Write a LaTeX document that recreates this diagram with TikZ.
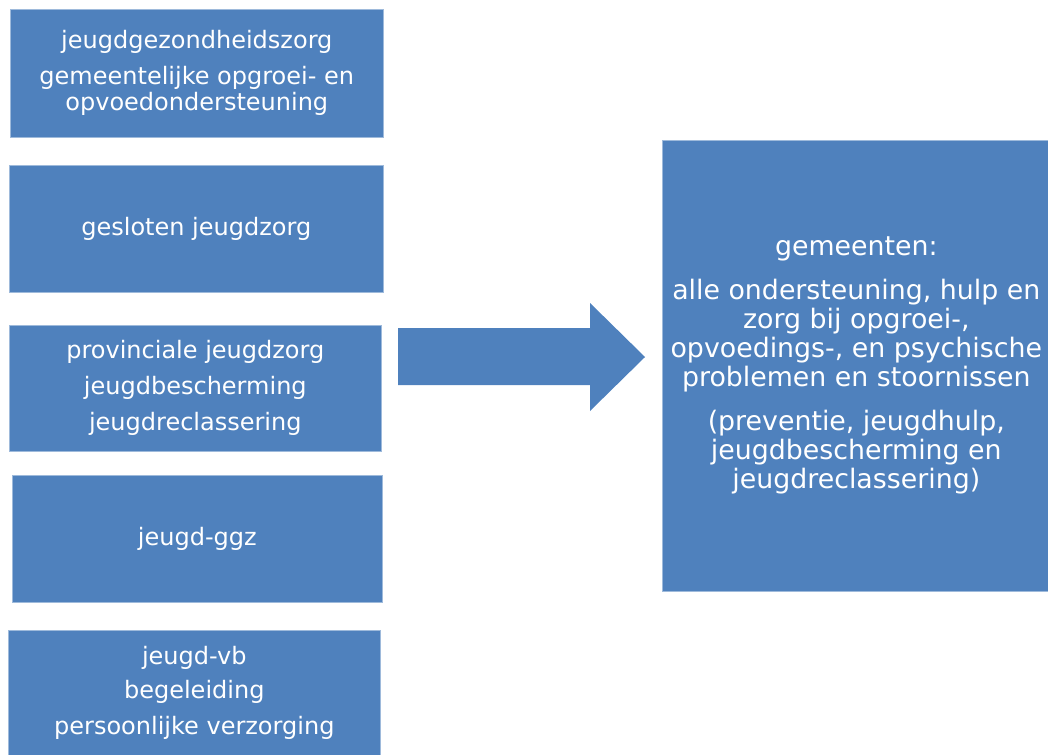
\documentclass[tikz,border=0pt]{standalone}
\usepackage{fontspec}
\setmainfont{DejaVu Sans}
\usetikzlibrary{positioning}
\definecolor{boxblue}{RGB}{79,129,189}

\begin{document}
\begin{tikzpicture}[x=1pt,y=-1pt,
    blok/.style={fill=boxblue,draw=boxblue!55!white,line width=0.6pt,text=white,
      align=center,anchor=north west,inner sep=0pt,
      font=\fontsize{24}{26}\selectfont},
    groot/.style={blok,font=\fontsize{26.8}{29}\selectfont}]
    \useasboundingbox (0,0) rectangle (1048,754);
    % left column of old tasks
    \node[blok,minimum width=373pt,minimum height=128pt] (jgz) at (10,9)
      {jeugdgezondheidszorg\\[10pt]gemeentelijke opgroei- en\\opvoedondersteuning};
    \node[blok,minimum width=374pt,minimum height=127pt] (gjz) at (9,165)
      {gesloten jeugdzorg};
    \node[blok,minimum width=372pt,minimum height=126pt] (pjz) at (9,325)
      {provinciale jeugdzorg\\[10pt]jeugdbescherming\\[10pt]jeugdreclassering};
    \node[blok,minimum width=370pt,minimum height=127pt] (ggz) at (12,475)
      {jeugd-ggz};
    \node[blok,minimum width=372pt,minimum height=126pt] (vb) at (8,630)
      {jeugd-vb\\[8pt]begeleiding\\[10pt]persoonlijke verzorging};
    % right box
    \node[groot,minimum width=388pt,minimum height=451pt] (gem) at (662,140)
      {gemeenten:\\[15pt]alle ondersteuning, hulp en\\zorg bij opgroei-,\\
       opvoedings-, en psychische\\problemen en stoornissen\\[15pt]
       (preventie, jeugdhulp,\\jeugdbescherming en\\jeugdreclassering)};
    % block arrow
    \fill[boxblue] (398,328) -- (590,328) -- (590,303) -- (645,357)
      -- (590,411) -- (590,385) -- (398,385) -- cycle;
  \end{tikzpicture}
\end{document}
